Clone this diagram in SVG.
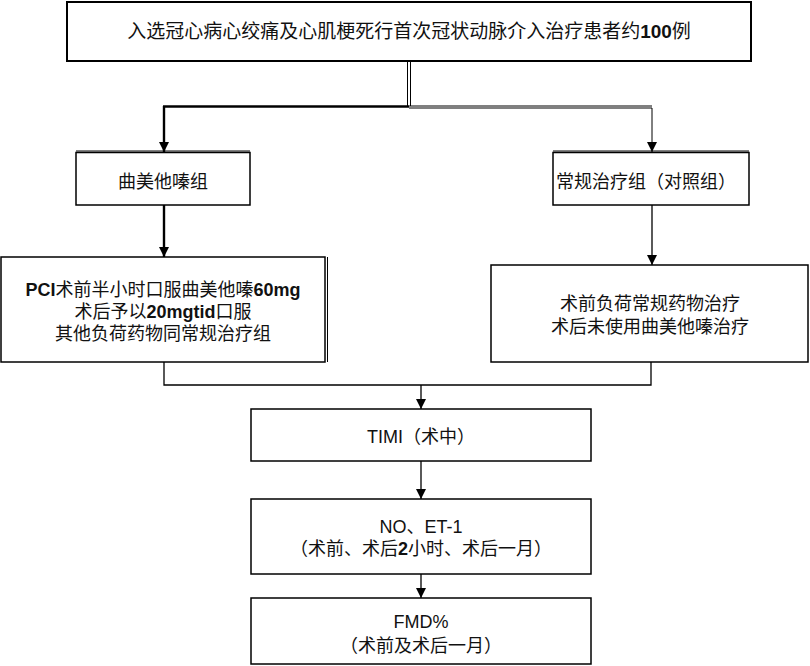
<svg xmlns="http://www.w3.org/2000/svg" width="810" height="666" viewBox="0 0 810 666">
<style>
.box{fill:#fff;stroke:#000;stroke-width:1.5}
.ln{fill:none;stroke:#000;stroke-width:1.3}
.thick{fill:none;stroke:#000;stroke-width:2.4}
.thin{fill:none;stroke:#000;stroke-width:1}
text{font-family:"Liberation Sans","Noto Sans CJK SC",sans-serif;font-size:18px;fill:#111;text-anchor:middle}
.b{font-weight:bold}
</style>
<defs>
<marker id="ah" markerUnits="userSpaceOnUse" markerWidth="10" markerHeight="12" refX="10" refY="5" orient="auto">
<path d="M0,0 L10,5 L0,10 z" fill="#000"/>
</marker>
</defs>
<rect width="810" height="666" fill="#fff"/>
<g id="connectors">
<line class="thin" x1="407.5" y1="61" x2="407.5" y2="106"/>
<line class="thin" x1="410.5" y1="61" x2="410.5" y2="106"/>
<line class="thick" x1="163" y1="106.5" x2="409" y2="106.5"/>
<line class="thin" x1="409" y1="106" x2="652" y2="106"/>
<line class="thin" x1="409" y1="108" x2="652" y2="108"/>
<line class="thick" x1="164" y1="106" x2="164" y2="152" marker-end="url(#ah)"/>
<line class="thin" x1="652" y1="108" x2="652" y2="152" marker-end="url(#ah)"/>
<line class="thick" x1="164" y1="205" x2="164" y2="257" marker-end="url(#ah)"/>
<line class="ln" x1="652" y1="205" x2="652" y2="265" marker-end="url(#ah)"/>
<polyline class="ln" points="164,362 164,385 651,385 651,362"/>
<line class="ln" x1="421" y1="385" x2="421" y2="409" marker-end="url(#ah)"/>
<line class="ln" x1="421" y1="461" x2="421" y2="499" marker-end="url(#ah)"/>
<line class="ln" x1="421" y1="574" x2="421" y2="598" marker-end="url(#ah)"/>
</g>
<g id="n_top">
<rect class="box" x="67" y="2" width="684" height="59" style="stroke-width:2"/>
<text x="409" y="38" style="font-size:19px">入选冠心病心绞痛及心肌梗死行首次冠状动脉介入治疗患者约<tspan class="b">100</tspan>例</text>
</g>
<g id="n_trim">
<line class="thin" x1="76" y1="151" x2="250" y2="151"/>
<rect class="box" x="76" y="152.5" width="174" height="52.5"/>
<text x="163" y="188">曲美他嗪组</text>
</g>
<g id="n_ctrl">
<line class="thin" x1="553" y1="151" x2="749" y2="151"/>
<rect class="box" x="553" y="152.5" width="196" height="52.5"/>
<text x="646" y="188">常规治疗组（对照组）</text>
</g>
<g id="n_trim_detail">
<line class="thin" x1="327.5" y1="257" x2="327.5" y2="362"/>
<rect class="box" x="1" y="257" width="324" height="105"/>
<text x="163" y="296"><tspan class="b">PCI</tspan>术前半小时口服曲美他嗪<tspan class="b">60mg</tspan></text>
<text x="163" y="318">术后予以<tspan class="b">20mgtid</tspan>口服</text>
<text x="163" y="340">其他负荷药物同常规治疗组</text>
</g>
<g id="n_ctrl_detail">
<rect class="box" x="491" y="265" width="317" height="97"/>
<text x="650" y="310">术前负荷常规药物治疗</text>
<text x="650" y="333">术后未使用曲美他嗪治疗</text>
</g>
<g id="n_timi">
<rect class="box" x="251" y="409" width="340" height="52"/>
<text x="421" y="443">TIMI（术中）</text>
</g>
<g id="n_no">
<rect class="box" x="251" y="499" width="340" height="75"/>
<text x="421" y="533">NO、ET-1</text>
<text x="421" y="555">（术前、术后<tspan class="b">2</tspan>小时、术后一月）</text>
</g>
<g id="n_fmd">
<rect class="box" x="251" y="598" width="340" height="66"/>
<text x="421" y="628">FMD%</text>
<text x="421" y="652">（术前及术后一月）</text>
</g>
</svg>
